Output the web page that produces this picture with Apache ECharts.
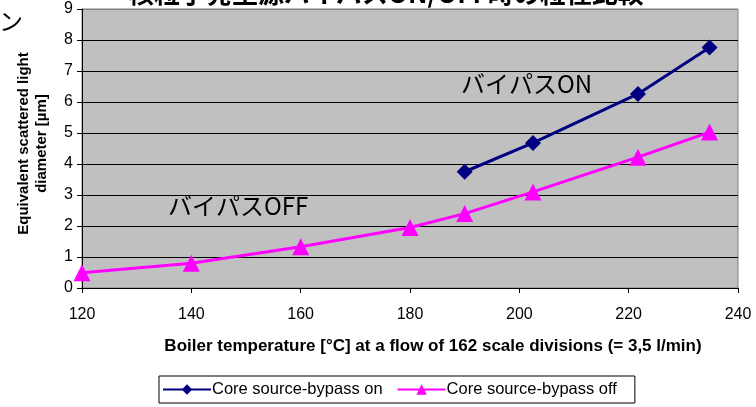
<!DOCTYPE html>
<html>
<head>
<meta charset="utf-8">
<script src="https://cdn.jsdelivr.net/npm/echarts@6/dist/echarts.min.js"></script>
<style>html,body{margin:0;padding:0;background:#fff;}#c{width:756px;height:407px;}</style>
</head>
<body>
<div id="c"></div>
<script>
const titleText = '核粒子発生源バイパスON/OFF時の粒径比較';
const xAxisTitle = 'Boiler temperature [°C] at a flow of 162 scale divisions (= 3,5 l/min)';
const yAxisTitle = 'Equivalent scattered light\ndiameter [µm]';
const seriesNames = ['Core source-bypass on', 'Core source-bypass off'];
const onTemps = [190, 202.5, 221.7, 234.8];
const onValues = [3.75, 4.68, 6.26, 7.76];
const offTemps = [120, 140, 160, 180, 190, 202.5, 221.7, 234.8];
const offValues = [0.49, 0.8, 1.33, 1.95, 2.4, 3.1, 4.22, 5.03];
const labelOn = 'バイパスON';
const labelOff = 'バイパスOFF';

const font = '"Liberation Sans", Arial, sans-serif';
const jfont = '"Noto Sans CJK JP", sans-serif';
const chart = echarts.init(document.getElementById('c'));
const gridColors = ['#000','#000','#000','#000','#000','#000','#000','#000','#000','#808080'];
chart.setOption({
  animation: false,
  backgroundColor: '#fff',
  grid: {left: 82, right: 18, top: 9, bottom: 119, show: true, backgroundColor: '#C0C0C0', borderColor: '#808080', borderWidth: 1},
  xAxis: {
    type: 'value', min: 120, max: 240, interval: 20,
    axisLine: {lineStyle: {color: '#000', width: 1}},
    axisTick: {show: true, length: 5, lineStyle: {color: '#000'}},
    axisLabel: {color: '#000', fontSize: 16, fontFamily: font, margin: 19},
    splitLine: {show: false},
    name: xAxisTitle, nameLocation: 'middle', nameGap: 50,
    nameTextStyle: {color: '#000', fontSize: 17, fontWeight: 'bold', fontFamily: font, padding: [0, 0, 0, 46]}
  },
  yAxis: {
    type: 'value', min: 0, max: 9, interval: 1,
    axisLine: {show: true, lineStyle: {color: '#000', width: 1}},
    axisTick: {show: true, length: 5, lineStyle: {color: '#000'}},
    axisLabel: {color: '#000', fontSize: 16, fontFamily: font, margin: 9},
    splitLine: {show: true, lineStyle: {color: gridColors, width: 1}},
    name: yAxisTitle, nameLocation: 'middle', nameGap: 31, nameRotate: 90,
    nameTextStyle: {color: '#000', fontSize: 15, fontWeight: 'bold', fontFamily: font, lineHeight: 18, padding: [0, 0, 0, 10]}
  },
  legend: {
    left: 159, top: 376,
    orient: 'horizontal',
    borderColor: '#000', borderWidth: 1, padding: [5, 18, 5, 3],
    itemWidth: 48, itemHeight: 13, itemGap: 14,
    textStyle: {color: '#000', fontSize: 16.5, fontFamily: font, padding: [0, 0, 0, -4]},
    data: seriesNames
  },
  series: [
    {
      name: seriesNames[0], type: 'line',
      data: onTemps.map((t, i) => [t, onValues[i]]),
      symbol: 'diamond', symbolSize: 16,
      lineStyle: {color: '#000080', width: 3},
      itemStyle: {color: '#000080'}
    },
    {
      name: seriesNames[1], type: 'line',
      data: offTemps.map((t, i) => [t, offValues[i]]),
      symbol: 'triangle', symbolSize: 17,
      lineStyle: {color: '#FF00FF', width: 3},
      itemStyle: {color: '#FF00FF'}
    }
  ],
  graphic: [
    {type: 'text', left: 128, top: -20, style: {text: titleText, font: 'bold 26px ' + jfont, fill: '#000'}},
    {type: 'text', left: -1, top: 9, style: {text: 'ン', font: '24px ' + jfont, fill: '#000'}},
    {type: 'text', left: 461, top: 72, style: {text: labelOn, font: '24px ' + jfont, fill: '#000'}},
    {type: 'text', left: 168, top: 194, style: {text: labelOff, font: '24px ' + jfont, fill: '#000'}}
  ]
});
</script>
</body>
</html>
